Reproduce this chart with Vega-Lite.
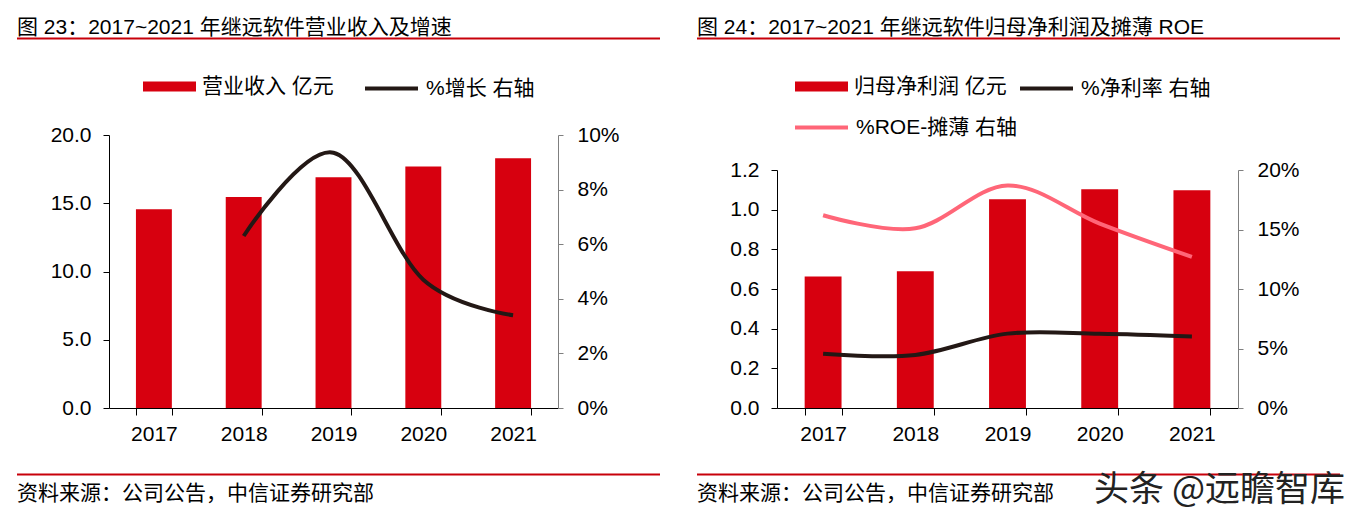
{
  "$schema": "https://vega.github.io/schema/vega-lite/v6.json",
  "background": "white",
  "padding": {"left": 16, "top": 16, "right": 8, "bottom": 2},
  "title": {"text": "头条 @远瞻智库", "orient": "bottom", "anchor": "end", "offset": -3, "dx": 4, "fontSize": 35, "color": "#222222", "font": "Noto Sans CJK SC", "fontWeight": "normal", "baseline": "alphabetic"},
  "datasets": {
    "p1": [
      {"year": "2017", "series": "营业收入 亿元", "value": 14.56},
      {"year": "2018", "series": "营业收入 亿元", "value": 15.46},
      {"year": "2019", "series": "营业收入 亿元", "value": 16.9},
      {"year": "2020", "series": "营业收入 亿元", "value": 17.7},
      {"year": "2021", "series": "营业收入 亿元", "value": 18.29},
      {"year": "2018", "series": "%增长 右轴", "value": 0.063},
      {"year": "2019", "series": "%增长 右轴", "value": 0.0935},
      {"year": "2020", "series": "%增长 右轴", "value": 0.047},
      {"year": "2021", "series": "%增长 右轴", "value": 0.034}
    ],
    "p2": [
      {"year": "2017", "series": "归母净利润 亿元", "value": 0.663},
      {"year": "2018", "series": "归母净利润 亿元", "value": 0.69},
      {"year": "2019", "series": "归母净利润 亿元", "value": 1.052},
      {"year": "2020", "series": "归母净利润 亿元", "value": 1.103},
      {"year": "2021", "series": "归母净利润 亿元", "value": 1.098},
      {"year": "2017", "series": "%净利率 右轴", "value": 0.0455},
      {"year": "2018", "series": "%净利率 右轴", "value": 0.0446},
      {"year": "2019", "series": "%净利率 右轴", "value": 0.0625},
      {"year": "2020", "series": "%净利率 右轴", "value": 0.0623},
      {"year": "2021", "series": "%净利率 右轴", "value": 0.060},
      {"year": "2017", "series": "%ROE-摊薄 右轴", "value": 0.162},
      {"year": "2018", "series": "%ROE-摊薄 右轴", "value": 0.151},
      {"year": "2019", "series": "%ROE-摊薄 右轴", "value": 0.187},
      {"year": "2020", "series": "%ROE-摊薄 右轴", "value": 0.155},
      {"year": "2021", "series": "%ROE-摊薄 右轴", "value": 0.127}
    ]
  },
  "spacing": 35,
  "resolve": {
    "scale": {"fill": "independent", "stroke": "independent", "color": "independent"},
    "legend": {"fill": "independent", "stroke": "independent", "color": "independent"}
  },
  "hconcat": [
    {
      "spacing": 20,
      "resolve": {
        "scale": {"fill": "independent", "stroke": "independent", "color": "independent"},
        "legend": {"fill": "independent", "stroke": "independent", "color": "independent"}
      },
      "vconcat": [
        {
          "width": 643, "height": 1,
          "title": {"text": "图 23：2017~2021 年继远软件营业收入及增速", "anchor": "start", "orient": "top", "offset": -17, "baseline": "alphabetic", "frame": "group"},
          "data": {"values": [{"part": "title rule"}]},
          "mark": {"type": "rule", "color": "#C8000A", "strokeWidth": 2},
          "encoding": {"x": {"datum": 0, "type": "quantitative", "axis": null}, "x2": {"datum": 1}}
        },
        {
          "spacing": 0,
          "resolve": {
            "scale": {"fill": "independent", "stroke": "independent", "color": "independent"},
            "legend": {"fill": "independent", "stroke": "independent", "color": "independent"}
          },
          "hconcat": [
            {
              "width": 1, "height": 1,
              "data": {"values": []},
              "mark": {"type": "rule"},
              "encoding": {}
            },
            {
              "width": 449, "height": 273,
              "data": {"name": "p1"},
              "layer": [
                {
                  "transform": [{"filter": {"field": "series", "equal": "营业收入 亿元"}}],
                  "mark": {"type": "bar"},
                  "encoding": {
                    "x": {"field": "year", "type": "ordinal", "scale": {"paddingInner": 0.6, "paddingOuter": 0.3},
                      "axis": {"title": null, "labelAngle": 0, "tickBand": "extent", "tickSize": 7, "labelPadding": 8, "minExtent": 45, "maxExtent": 45}},
                    "y": {"field": "value", "type": "quantitative", "scale": {"domain": [0, 20], "nice": false},
                      "axis": {"title": null, "orient": "left", "values": [0, 5, 10, 15, 20], "format": ".1f", "tickSize": 6, "labelPadding": 12, "minExtent": 91, "maxExtent": 91}},
                    "fill": {"field": "series", "type": "nominal", "scale": {"range": ["#D7000F"]},
                      "legend": {"orient": "none", "legendX": 34, "legendY": -75, "symbolType": "M-1,-0.19H1V0.19H-1Z", "symbolStrokeWidth": 0}}
                  }
                },
                {
                  "transform": [{"filter": {"field": "series", "equal": "%增长 右轴"}}],
                  "mark": {"type": "line", "interpolate": "cardinal", "strokeWidth": 4},
                  "encoding": {
                    "x": {"field": "year", "type": "ordinal"},
                    "y": {"field": "value", "type": "quantitative", "scale": {"domain": [0, 0.1], "nice": false},
                      "axis": {"title": null, "orient": "right", "values": [0, 0.02, 0.04, 0.06, 0.08, 0.1], "format": ".0%", "tickSize": 5, "labelPadding": 14, "domainColor": "#7f7f7f", "tickColor": "#7f7f7f"}},
                    "stroke": {"field": "series", "type": "nominal", "scale": {"range": ["#231815"]},
                      "legend": {"orient": "none", "legendX": 254, "legendY": -75, "symbolType": "stroke", "symbolStrokeWidth": 4}}
                  }
                }
              ],
              "resolve": {"scale": {"y": "independent"}}
            }
          ]
        },
        {
          "width": 643, "height": 1,
          "title": {"text": "资料来源：公司公告，中信证券研究部", "anchor": "start", "orient": "bottom", "offset": 24, "baseline": "alphabetic", "frame": "group"},
          "data": {"values": [{"part": "source rule"}]},
          "mark": {"type": "rule", "color": "#C8000A", "strokeWidth": 2},
          "encoding": {"x": {"datum": 0, "type": "quantitative", "axis": null}, "x2": {"datum": 1}}
        }
      ]
    },
    {
      "spacing": 20,
      "resolve": {
        "scale": {"fill": "independent", "stroke": "independent", "color": "independent"},
        "legend": {"fill": "independent", "stroke": "independent", "color": "independent"}
      },
      "vconcat": [
        {
          "width": 643, "height": 1,
          "title": {"text": "图 24：2017~2021 年继远软件归母净利润及摊薄 ROE", "anchor": "start", "orient": "top", "offset": -17, "baseline": "alphabetic", "frame": "group"},
          "data": {"values": [{"part": "title rule"}]},
          "mark": {"type": "rule", "color": "#C8000A", "strokeWidth": 2},
          "encoding": {"x": {"datum": 0, "type": "quantitative", "axis": null}, "x2": {"datum": 1}}
        },
        {
          "spacing": 0,
          "resolve": {
            "scale": {"fill": "independent", "stroke": "independent", "color": "independent"},
            "legend": {"fill": "independent", "stroke": "independent", "color": "independent"}
          },
          "hconcat": [
            {
              "width": 1, "height": 1,
              "data": {"values": []},
              "mark": {"type": "rule"},
              "encoding": {}
            },
            {
              "width": 461, "height": 238,
              "data": {"name": "p2"},
              "layer": [
                {
                  "transform": [{"filter": {"field": "series", "equal": "归母净利润 亿元"}}],
                  "mark": {"type": "bar"},
                  "encoding": {
                    "x": {"field": "year", "type": "ordinal", "scale": {"paddingInner": 0.6, "paddingOuter": 0.3},
                      "axis": {"title": null, "labelAngle": 0, "tickBand": "extent", "tickSize": 7, "labelPadding": 8, "minExtent": 45, "maxExtent": 45}},
                    "y": {"field": "value", "type": "quantitative", "scale": {"domain": [0, 1.2], "nice": false},
                      "axis": {"title": null, "orient": "left", "values": [0, 0.2, 0.4, 0.6, 0.8, 1.0, 1.2], "format": ".1f", "tickSize": 6, "labelPadding": 12, "minExtent": 79, "maxExtent": 79}},
                    "fill": {"field": "series", "type": "nominal", "scale": {"range": ["#D7000F"]},
                      "legend": {"orient": "none", "legendX": 18, "legendY": -110, "symbolType": "M-1,-0.19H1V0.19H-1Z", "symbolStrokeWidth": 0}}
                  }
                },
                {
                  "transform": [{"filter": {"field": "series", "equal": "%净利率 右轴"}}],
                  "mark": {"type": "line", "interpolate": "cardinal", "strokeWidth": 4},
                  "encoding": {
                    "x": {"field": "year", "type": "ordinal"},
                    "y": {"field": "value", "type": "quantitative", "scale": {"domain": [0, 0.2], "nice": false},
                      "axis": {"title": null, "orient": "right", "values": [0, 0.05, 0.1, 0.15, 0.2], "format": ".0%", "tickSize": 5, "labelPadding": 14, "domainColor": "#7f7f7f", "tickColor": "#7f7f7f"}},
                    "stroke": {"field": "series", "type": "nominal", "scale": {"range": ["#231815"]},
                      "legend": {"orient": "none", "legendX": 241, "legendY": -110, "symbolType": "stroke", "symbolStrokeWidth": 4}}
                  }
                },
                {
                  "transform": [{"filter": {"field": "series", "equal": "%ROE-摊薄 右轴"}}],
                  "mark": {"type": "line", "interpolate": "cardinal", "strokeWidth": 4},
                  "encoding": {
                    "x": {"field": "year", "type": "ordinal"},
                    "y": {"field": "value", "type": "quantitative", "scale": {"domain": [0, 0.2], "nice": false}, "axis": null},
                    "color": {"field": "series", "type": "nominal", "scale": {"range": ["#FF6678"]},
                      "legend": {"orient": "none", "legendX": 16, "legendY": -71, "symbolType": "stroke", "symbolStrokeWidth": 4}}
                  }
                }
              ],
              "resolve": {"scale": {"y": "independent"}}
            }
          ]
        },
        {
          "width": 643, "height": 1,
          "title": {"text": "资料来源：公司公告，中信证券研究部", "anchor": "start", "orient": "bottom", "offset": 24, "baseline": "alphabetic", "frame": "group"},
          "data": {"values": [{"part": "source rule"}]},
          "mark": {"type": "rule", "color": "#C8000A", "strokeWidth": 2},
          "encoding": {"x": {"datum": 0, "type": "quantitative", "axis": null}, "x2": {"datum": 1}}
        }
      ]
    }
  ],
  "config": {
    "font": "Liberation Sans, Noto Sans CJK SC",
    "view": {"stroke": null},
    "title": {"fontSize": 21, "fontWeight": "normal", "color": "#000000"},
    "axis": {"labelFontSize": 21, "labelColor": "#000000", "domainColor": "#000000", "tickColor": "#000000", "grid": false, "labelFont": "Liberation Sans, Noto Sans CJK SC"},
    "legend": {"title": null, "labelFontSize": 21, "labelColor": "#000000", "labelOffset": 6, "symbolSize": 2809, "labelLimit": 400, "padding": 0, "labelFont": "Liberation Sans, Noto Sans CJK SC"}
  }
}
